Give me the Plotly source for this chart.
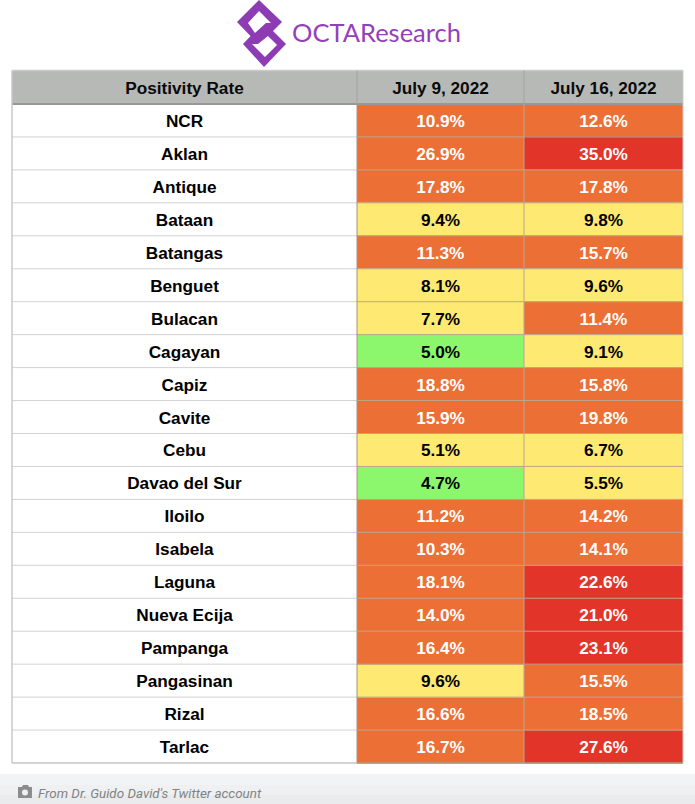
import plotly.graph_objects as go

W = 695
H = 804

columns = ['Positivity Rate', 'July 9, 2022', 'July 16, 2022']
places = ['NCR', 'Aklan', 'Antique', 'Bataan', 'Batangas', 'Benguet', 'Bulacan', 'Cagayan',
          'Capiz', 'Cavite', 'Cebu', 'Davao del Sur', 'Iloilo', 'Isabela', 'Laguna',
          'Nueva Ecija', 'Pampanga', 'Pangasinan', 'Rizal', 'Tarlac']
july_9 = [10.9, 26.9, 17.8, 9.4, 11.3, 8.1, 7.7, 5.0, 18.8, 15.9,
          5.1, 4.7, 11.2, 10.3, 18.1, 14.0, 16.4, 9.6, 16.6, 16.7]
july_16 = [12.6, 35.0, 17.8, 9.8, 15.7, 9.6, 11.4, 9.1, 15.8, 19.8,
           6.7, 5.5, 14.2, 14.1, 22.6, 21.0, 23.1, 15.5, 18.5, 27.6]
# risk level of each cell as coloured in the source table: 1 low, 2 moderate, 3 high, 4 very high
levels_9 = [3, 3, 3, 2, 3, 2, 2, 1, 3, 3, 2, 1, 3, 3, 3, 3, 3, 2, 3, 3]
levels_16 = [3, 4, 3, 2, 3, 2, 3, 2, 3, 3, 2, 2, 3, 3, 4, 4, 4, 3, 3, 4]

PLAIN = 0
HEADER = 5
palette = ['#ffffff', '#8cf76c', '#fee972', '#ec6f36', '#e3342a', '#b7b9b7']
inks = ['#000000', '#000000', '#000000', '#ffffff', '#ffffff', '#0a0a0a']
PURPLE = '#8e3cb4'
FONT = 'Liberation Sans'
FONT_SIZE = 17.2

# the axes run in page pixels, so the table edges below are plain page distances
col_edges = [12, 357, 524, 683]
col_mid = [(a + b) / 2 for a, b in zip(col_edges, col_edges[1:])]
top = 70.5
head = 104
row_h = 32.95
row_edges = [top, head] + [head + row_h * (i + 1) for i in range(len(places))]
# plotly sets middle-anchored text a bit high, push it back down
row_mid = [(a + b) / 2 + 2.2 for a, b in zip(row_edges, row_edges[1:])]


def bold(items):
    return ['<b>%s</b>' % i for i in items]


def pct(items):
    return ['<b>%.1f%%</b>' % v for v in items]


def path(points):
    # page pixels -> paper coordinates
    return 'M' + ' L'.join('%.4f,%.4f' % (x / W, 1 - y / H) for x, y in points) + ' Z'


def blob(points, color):
    return dict(type='path', xref='paper', yref='paper', path=path(points),
                fillcolor=color, line=dict(width=0), layer='above')


def box(x0, y0, x1, y1, color):
    return dict(type='rect', xref='paper', yref='paper', x0=x0 / W, x1=x1 / W,
                y0=1 - y1 / H, y1=1 - y0 / H, fillcolor=color, line=dict(width=0), layer='below')


def rule(x0, y0, x1, y1, color, width=1):
    return dict(type='line', xref='x', yref='y', x0=x0, x1=x1, y0=y0, y1=y1,
                line=dict(color=color, width=width))


z = [[HEADER, HEADER, HEADER]]
for a, b in zip(levels_9, levels_16):
    z.append([PLAIN, a, b])

fig = go.Figure()
fig.add_trace(go.Heatmap(
    x=col_edges,
    y=row_edges,
    z=z,
    zmin=0,
    zmax=5,
    colorscale=[[i / 5, c] for i, c in enumerate(palette)],
    showscale=False,
    hoverinfo='skip',
))

texts = bold(columns) + bold(places) + pct(july_9) + pct(july_16)
xs = col_mid + [col_mid[0]] * len(places) + [col_mid[1]] * len(places) + [col_mid[2]] * len(places)
ys = row_mid[:1] * 3 + row_mid[1:] * 3
colors = ([inks[HEADER]] * 3 + [inks[PLAIN]] * len(places)
          + [inks[l] for l in levels_9] + [inks[l] for l in levels_16])
fig.add_trace(go.Scatter(
    x=xs,
    y=ys,
    text=texts,
    mode='text',
    textposition='middle center',
    textfont=dict(family=FONT, size=FONT_SIZE, color=colors),
    hoverinfo='skip',
    showlegend=False,
))

shapes = [
    box(0, 774, W, 785, '#f1f3f4'),
    box(0, 785, W, 795, '#eef0f1'),
    box(0, 795, W, H, '#e9ebec'),
    # logo, two linked diamonds
    blob([(259, 0), (282, 22), (259, 45), (237, 22)], PURPLE),
    blob([(264, 22), (286, 44), (264, 67), (243, 44)], PURPLE),
    blob([(259, 11), (271, 23), (266, 23), (255, 33), (248, 23)], '#ffffff'),
    blob([(268, 36), (277, 45), (265, 57), (252, 44), (258, 44)], '#ffffff'),
    # camera icon
    blob([(18, 787), (22, 787), (23, 785), (28, 785), (29, 787), (32, 787), (32, 798), (18, 798)], '#8a8d8e'),
    dict(type='circle', xref='paper', yref='paper', x0=22 / W, x1=28 / W,
         y0=1 - 795.5 / H, y1=1 - 789.5 / H, fillcolor='#eef0f1', line=dict(width=0), layer='above'),
]
# grid
for y in row_edges[2:-1]:
    shapes.append(rule(col_edges[0], y, col_edges[1], y, '#d2d2d2'))
    shapes.append(rule(col_edges[1], y, col_edges[3], y, '#bda58d'))
shapes.append(rule(col_edges[0], row_edges[-1], col_edges[1], row_edges[-1], '#c4c4c4', 1.5))
shapes.append(rule(col_edges[1], row_edges[-1], col_edges[3], row_edges[-1], '#b09a88', 1.5))
shapes.append(rule(col_edges[0], head, col_edges[3], head, '#979997', 2))
shapes.append(rule(col_edges[0], top, col_edges[3], top, '#c9cbc9', 1.5))
shapes.append(rule(col_edges[0], top, col_edges[0], row_edges[-1], '#c9c9c9', 1.5))
shapes.append(rule(col_edges[3], top, col_edges[3], row_edges[-1], '#c9c9c9', 1))
shapes.append(rule(col_edges[1], top, col_edges[1], head, '#a2a4a2'))
shapes.append(rule(col_edges[2], top, col_edges[2], head, '#a2a4a2'))
shapes.append(rule(col_edges[1], head, col_edges[1], row_edges[-1], '#a8927c'))
shapes.append(rule(col_edges[2], head, col_edges[2], row_edges[-1], '#bda58d'))

fig.update_layout(
    width=W,
    height=H,
    margin=dict(l=0, r=0, t=0, b=0),
    paper_bgcolor='#ffffff',
    plot_bgcolor='rgba(0,0,0,0)',
    xaxis=dict(range=[0, W], visible=False, fixedrange=True),
    yaxis=dict(range=[H, 0], visible=False, fixedrange=True),
    shapes=shapes,
    annotations=[
        dict(text='OCTAResearch', xref='paper', yref='paper', x=289.5 / W, y=1 - 32 / H,
             xanchor='left', yanchor='middle', showarrow=False,
             font=dict(family='Lato', size=25.5, color='#9440bc')),
        dict(text="<i>From Dr. Guido David's Twitter account</i>", xref='paper', yref='paper',
             x=36 / W, y=1 - 793 / H, xanchor='left', yanchor='middle', showarrow=False,
             font=dict(family='Roboto', size=13.4, color='#808384')),
    ],
)

fig.write_html('out.html', config=dict(displayModeBar=False),
               post_script="document.body.style.margin='0';document.body.style.overflow='hidden';")
